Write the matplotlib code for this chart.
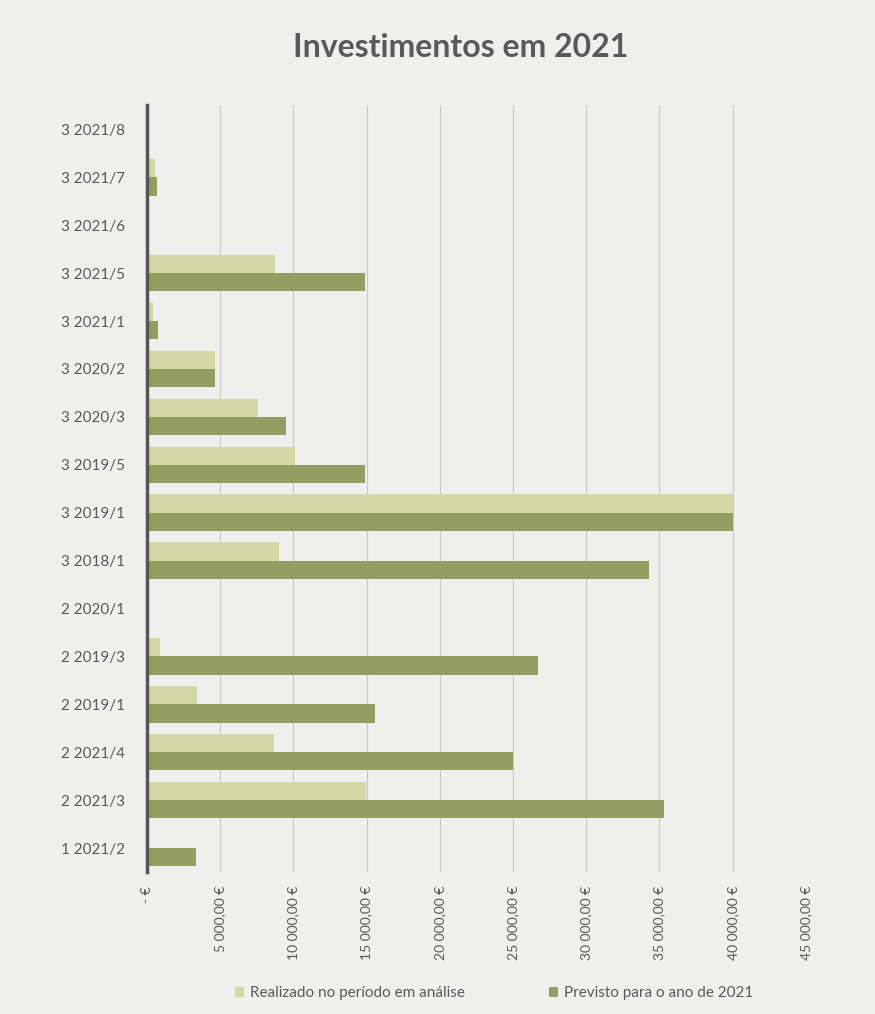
import matplotlib.pyplot as plt
import numpy as np

plt.rcParams['font.family'] = ['Lato', 'DejaVu Sans']

# Categorias (de baixo para cima, como no Excel)
categorias = ['1 2021/2', '2 2021/3', '2 2021/4', '2 2019/1', '2 2019/3', '2 2020/1',
              '3 2018/1', '3 2019/1', '3 2019/5', '3 2020/3', '3 2020/2', '3 2021/1',
              '3 2021/5', '3 2021/6', '3 2021/7', '3 2021/8']
realizado = [150, 14950, 8650, 3400, 900, 0,
             9000, 40000, 10100, 7600, 4650, 400,
             8750, 0, 550, 0]
previsto = [3350, 35300, 25000, 15600, 26700, 0,
            34300, 40000, 14900, 9500, 4650, 750,
            14900, 0, 700, 0]
xticks = [0, 5000, 10000, 15000, 20000, 25000, 30000, 35000, 40000, 45000]

cor_claro = '#d3d8a6'
cor_escuro = '#959e62'
cor_texto = '#595959'
fundo = '#efefed'

fig = plt.figure(figsize=(8.75, 10.14), dpi=100)
fig.patch.set_facecolor(fundo)
ax = fig.add_axes([0.168, 0.140, 0.753, 0.756])
ax.set_facecolor(fundo)

y = np.arange(len(categorias))
h = 0.38
ax.barh(y + h / 2, realizado, height=h, color=cor_claro, label='Realizado no período em análise', zorder=3)
ax.barh(y - h / 2, previsto, height=h, color=cor_escuro, label='Previsto para o ano de 2021', zorder=3)

ax.set_xlim(0, 45000)
ax.set_ylim(-0.5, len(categorias) - 0.5)
ax.set_yticks(y)
ax.set_yticklabels(categorias, fontsize=11, color=cor_texto)
ax.set_xticks(xticks)
ax.set_xticklabels(['- €' if v == 0 else f'{v:,.2f} €'.replace(',', ' ').replace('.', ',') for v in xticks],
                   rotation=90, fontsize=10, color=cor_texto)
ax.tick_params(axis='y', length=0, pad=16)
ax.tick_params(axis='x', length=0, pad=10)

ax.grid(axis='x', color='#c8c8c8', linewidth=0.8, zorder=0)
for s in ['top', 'right', 'bottom']:
    ax.spines[s].set_visible(False)
ax.spines['left'].set_color('#555555')
ax.spines['left'].set_linewidth(2.5)
ax.spines['left'].set_zorder(4)

fig.suptitle('Investimentos em 2021', x=0.526, y=0.967, fontsize=23, fontweight='bold', color=cor_texto)

fig.legend(loc='lower center', bbox_to_anchor=(0.565, 0.0), ncol=2, frameon=False,
           fontsize=11, labelcolor=cor_texto, handlelength=0.6, handleheight=0.6,
           handletextpad=0.4, columnspacing=5.5)

plt.savefig('out.png', dpi=100, facecolor=fundo)
